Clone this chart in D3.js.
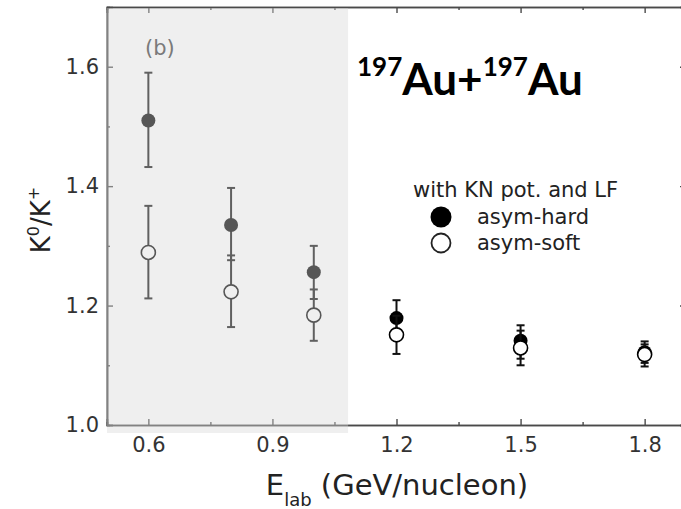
<!DOCTYPE html>
<html>
<head>
<meta charset="utf-8">
<script src="https://cdn.jsdelivr.net/npm/d3@7"></script>
<style>
  html, body { margin: 0; padding: 0; background: #fff; }
  svg { display: block; }
  text { font-family: "DejaVu Sans", sans-serif; }
</style>
</head>
<body>
<svg id="chart" width="681" height="509"></svg>
<script>
// Beam energies (GeV/nucleon)
const energies = [0.6, 0.8, 1.0, 1.2, 1.5, 1.8];

// K0/K+ ratio, asym-hard symmetry energy
const hardRatio = [1.510, 1.335, 1.256, 1.179, 1.141, 1.122];
const hardLow   = [1.432, 1.276, 1.211, 1.148, 1.111, 1.104];
const hardHigh  = [1.590, 1.397, 1.300, 1.209, 1.167, 1.140];

// K0/K+ ratio, asym-soft symmetry energy
const softRatio = [1.289, 1.223, 1.184, 1.151, 1.129, 1.118];
const softLow   = [1.212, 1.164, 1.141, 1.119, 1.100, 1.098];
const softHigh  = [1.367, 1.284, 1.227, 1.183, 1.158, 1.135];

// Axis ticks
const xMajorTicks = [0.6, 0.9, 1.2, 1.5, 1.8];
const xMinorTicks = [0.75, 1.05, 1.35, 1.65];
const yMajorTicks = [1.0, 1.2, 1.4, 1.6];
const yMinorTicks = [1.1, 1.3, 1.5];

// Sub-threshold region highlighted in grey (upper energy edge)
const shadedMax = 1.083;

const svg = d3.select("#chart");
const plotLeft = 107, plotRight = 686, plotTop = 7, plotBottom = 425;

const x = d3.scaleLinear().domain([0.5, 1.9]).range([plotLeft, plotRight]);
const y = d3.scaleLinear().domain([1.0, 1.7]).range([plotBottom, plotTop]);

const axisColor = "#4a4a4a";
const tickFmt = d3.format(".1f");

function styleAxis(g) {
  g.select(".domain").attr("stroke", axisColor).attr("stroke-width", 1.6);
  g.selectAll(".tick line").attr("stroke", axisColor).attr("stroke-width", 1.4);
  g.selectAll(".tick text")
    .attr("fill", "#333")
    .style("font-size", "21px")
    .style("font-family", "DejaVu Sans, sans-serif");
}

// Bottom axis with labels, ticks pointing inward
svg.append("g").attr("transform", `translate(0,${plotBottom})`)
  .call(d3.axisBottom(x).tickValues(xMajorTicks).tickFormat(tickFmt).tickSize(-6).tickPadding(12))
  .call(styleAxis);
svg.append("g").attr("transform", `translate(0,${plotBottom})`)
  .call(d3.axisBottom(x).tickValues(xMinorTicks).tickFormat("").tickSize(-3))
  .call(styleAxis);

// Top axis
svg.append("g").attr("transform", `translate(0,${plotTop})`)
  .call(d3.axisTop(x).tickValues(xMajorTicks).tickFormat("").tickSize(-6))
  .call(styleAxis);
svg.append("g").attr("transform", `translate(0,${plotTop})`)
  .call(d3.axisTop(x).tickValues(xMinorTicks).tickFormat("").tickSize(-3))
  .call(styleAxis);

// Left axis with labels
svg.append("g").attr("transform", `translate(${plotLeft},0)`)
  .call(d3.axisLeft(y).tickValues(yMajorTicks).tickFormat(tickFmt).tickSize(-6).tickPadding(8))
  .call(styleAxis);
svg.append("g").attr("transform", `translate(${plotLeft},0)`)
  .call(d3.axisLeft(y).tickValues(yMinorTicks).tickFormat("").tickSize(-3))
  .call(styleAxis);

// Right axis
svg.append("g").attr("transform", `translate(${plotRight},0)`)
  .call(d3.axisRight(y).tickValues(yMajorTicks).tickFormat("").tickSize(-6))
  .call(styleAxis);
svg.append("g").attr("transform", `translate(${plotRight},0)`)
  .call(d3.axisRight(y).tickValues(yMinorTicks).tickFormat("").tickSize(-3))
  .call(styleAxis);

// Error bars and markers for one series
function drawSeries(ratio, lo, hi, filled) {
  const rows = energies.map((e, i) => ({ e, v: ratio[i], lo: lo[i], hi: hi[i] }));
  const g = svg.append("g");
  g.selectAll("line.bar").data(rows).join("line")
    .attr("x1", d => x(d.e)).attr("x2", d => x(d.e))
    .attr("y1", d => y(d.lo)).attr("y2", d => y(d.hi))
    .attr("stroke", "#111").attr("stroke-width", 2);
  ["lo", "hi"].forEach(k => {
    g.selectAll("line.cap-" + k).data(rows).join("line")
      .attr("class", "cap-" + k)
      .attr("x1", d => x(d.e) - 4).attr("x2", d => x(d.e) + 4)
      .attr("y1", d => y(d[k])).attr("y2", d => y(d[k]))
      .attr("stroke", "#111").attr("stroke-width", 2);
  });
  g.selectAll("circle").data(rows).join("circle")
    .attr("cx", d => x(d.e)).attr("cy", d => y(d.v)).attr("r", 7)
    .attr("fill", filled ? "#000" : "#fff")
    .attr("stroke", "#000").attr("stroke-width", filled ? 0 : 1.6);
}

drawSeries(hardRatio, hardLow, hardHigh, true);
drawSeries(softRatio, softLow, softHigh, false);

// Translucent grey band over the low-energy region
svg.append("rect")
  .attr("x", x(0.5)).attr("y", plotTop + 1)
  .attr("width", x(shadedMax) - x(0.5))
  .attr("height", plotBottom - plotTop + 7)
  .attr("fill", "rgb(215,215,215)").attr("fill-opacity", 0.4);

// Panel label
svg.append("text").attr("x", 145).attr("y", 55)
  .attr("fill", "#7a7a7a").style("font-size", "21px").text("(b)");

// Reaction system
const title = svg.append("text").attr("x", 357).attr("y", 95)
  .style("font-family", "Lato, 'Open Sans', sans-serif")
  .style("font-weight", "bold").attr("fill", "#000");
title.append("tspan").style("font-size", "26px").attr("dy", -19).text("197");
title.append("tspan").style("font-size", "44px").attr("dy", 19).text("Au+");
title.append("tspan").style("font-size", "26px").attr("dy", -19).text("197");
title.append("tspan").style("font-size", "44px").attr("dy", 19).text("Au");

// Legend
const legend = svg.append("g");
legend.append("text").attr("x", 413).attr("y", 197)
  .attr("fill", "#222").style("font-size", "21px").text("with KN pot. and LF");
legend.append("circle").attr("cx", 441).attr("cy", 217).attr("r", 10.5).attr("fill", "#000");
legend.append("text").attr("x", 477).attr("y", 224)
  .attr("fill", "#222").style("font-size", "21px").text("asym-hard");
legend.append("circle").attr("cx", 441).attr("cy", 243).attr("r", 9.5)
  .attr("fill", "#fff").attr("stroke", "#222").attr("stroke-width", 1.8);
legend.append("text").attr("x", 477).attr("y", 250)
  .attr("fill", "#222").style("font-size", "21px").text("asym-soft");

// Axis titles
const xTitle = svg.append("text").attr("x", 397).attr("y", 495)
  .attr("text-anchor", "middle").attr("fill", "#222").style("font-size", "29px");
xTitle.append("tspan").text("E");
xTitle.append("tspan").style("font-size", "18px").attr("dy", 11).text("lab");
xTitle.append("tspan").attr("dy", -11).text(" (GeV/nucleon)");

const yTitle = svg.append("text")
  .attr("transform", "translate(50,220) rotate(-90)")
  .attr("text-anchor", "middle").attr("fill", "#222").style("font-size", "26px");
yTitle.append("tspan").text("K");
yTitle.append("tspan").style("font-size", "16px").attr("dy", -11).text("0");
yTitle.append("tspan").attr("dy", 11).text("/K");
yTitle.append("tspan").style("font-size", "16px").attr("dy", -11).text("+");
</script>
</body>
</html>
